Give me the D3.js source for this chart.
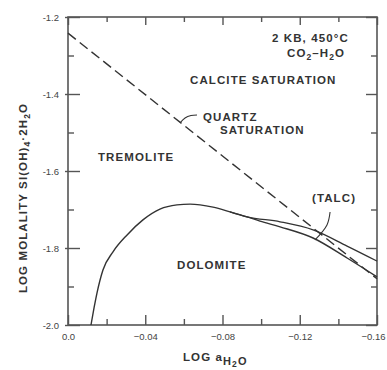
<!DOCTYPE html>
<html>
<head>
<meta charset="utf-8">
<script src="https://cdn.jsdelivr.net/npm/d3@7"></script>
<style>
  html, body { margin: 0; padding: 0; background: #fff; }
  svg { display: block; font-family: "Liberation Sans", Arial, sans-serif; }
</style>
</head>
<body>
<svg id="chart" width="387" height="370"></svg>
<script>
// ---- data ----
const xDomain = [0, -0.16];
const yDomain = [-2.0, -1.2];
const xMajorTicks = [0, -0.04, -0.08, -0.12, -0.16];
const xMajorLabels = ["0.0", "\u22120.04", "\u22120.08", "\u22120.12", "\u22120.16"];
const xMinorTicks = [-0.02, -0.06, -0.10, -0.14];
const yMajorTicks = [-1.2, -1.4, -1.6, -1.8, -2.0];
const yMajorLabels = ["-1.2", "-1.4", "-1.6", "-1.8", "-2.0"];
const yMinorTicks = [-1.3, -1.5, -1.7, -1.9];

// quartz saturation (dashed)
const quartzX = [0, -0.16];
const quartzY = [-1.242, -1.880];

// dolomite boundary (lower branch)
const dolomiteX = [-0.0119, -0.0135, -0.0150, -0.0181, -0.0233, -0.0306, -0.0388, -0.0476, -0.0564, -0.0632, -0.0751, -0.0839, -0.0927, -0.0994, -0.1098, -0.1269, -0.1445, -0.1600];
const dolomiteY = [-2.000, -1.955, -1.917, -1.857, -1.810, -1.766, -1.727, -1.699, -1.688, -1.686, -1.694, -1.706, -1.719, -1.730, -1.745, -1.774, -1.826, -1.875];

// talc boundary (upper branch)
const talcX = [-0.0839, -0.0927, -0.1098, -0.1269, -0.1445, -0.1600];
const talcY = [-1.706, -1.719, -1.732, -1.753, -1.795, -1.834];

// label leaders
const talcLeaderX = [-0.1357, -0.1341, -0.1279];
const talcLeaderY = [-1.7065, -1.740, -1.779];
const quartzLeaderX = [-0.0668, -0.0637, -0.0606, -0.0580];
const quartzLeaderY = [-1.4545, -1.456, -1.4623, -1.475];

// ---- layout ----
const svg = d3.select("#chart");
const L = 68, R = 377, T = 17, B = 325;
const x = d3.scaleLinear().domain(xDomain).range([L, R]);
const y = d3.scaleLinear().domain(yDomain).range([B, T]);
const axisColor = "#555";
const lineColor = "#333";
const textColor = "#333";

// frame
svg.append("rect").attr("x", L).attr("y", T).attr("width", R - L).attr("height", B - T)
  .attr("fill", "none").attr("stroke", axisColor).attr("stroke-width", 1.6);

// axes with inward ticks
const fmt = (arr, labels) => (d => labels[arr.indexOf(d)]);
const bottomAxis = d3.axisBottom(x).tickValues(xMajorTicks).tickSizeInner(-10).tickSizeOuter(0)
  .tickPadding(8).tickFormat(fmt(xMajorTicks, xMajorLabels));
const gB = svg.append("g").attr("transform", `translate(0,${B})`).call(bottomAxis);
const gBm = svg.append("g").attr("transform", `translate(0,${B})`)
  .call(d3.axisBottom(x).tickValues(xMinorTicks).tickSizeInner(-6).tickSizeOuter(0).tickFormat(""));
const gT = svg.append("g").attr("transform", `translate(0,${T})`)
  .call(d3.axisTop(x).tickValues(xMajorTicks).tickSizeInner(-8).tickSizeOuter(0).tickFormat(""));
const gTm = svg.append("g").attr("transform", `translate(0,${T})`)
  .call(d3.axisTop(x).tickValues(xMinorTicks).tickSizeInner(-5).tickSizeOuter(0).tickFormat(""));
const gL = svg.append("g").attr("transform", `translate(${L},0)`)
  .call(d3.axisLeft(y).tickValues(yMajorTicks).tickSizeInner(-12).tickSizeOuter(0)
    .tickPadding(20).tickFormat(fmt(yMajorTicks, yMajorLabels)));
const gLm = svg.append("g").attr("transform", `translate(${L},0)`)
  .call(d3.axisLeft(y).tickValues(yMinorTicks).tickSizeInner(-6).tickSizeOuter(0).tickFormat(""));
const gR = svg.append("g").attr("transform", `translate(${R},0)`)
  .call(d3.axisRight(y).tickValues(yMajorTicks).tickSizeInner(-11).tickSizeOuter(0).tickFormat(""));
const gRm = svg.append("g").attr("transform", `translate(${R},0)`)
  .call(d3.axisRight(y).tickValues(yMinorTicks).tickSizeInner(-6).tickSizeOuter(0).tickFormat(""));

[gB, gBm, gT, gTm, gL, gLm, gR, gRm].forEach(g => {
  g.select(".domain").remove();
  g.selectAll(".tick line").attr("stroke", axisColor).attr("stroke-width", 1.4);
  g.selectAll(".tick text").attr("fill", "#444").attr("font-size", 9.5)
    .attr("font-family", "Liberation Sans, Arial, sans-serif");
});
// left-axis major ticks poke slightly outside
gL.selectAll(".tick line").attr("x1", -3);
gL.selectAll(".tick text").attr("text-anchor", "end").attr("x", -9);
// keep the last x label inside the window
gB.selectAll(".tick text").filter(d => d === -0.16).attr("dx", -4);

// ---- curves ----
const line = d3.line().x(d => x(d[0])).y(d => y(d[1]));
const zip = (a, b) => a.map((v, i) => [v, b[i]]);

svg.append("path").datum(zip(quartzX, quartzY))
  .attr("d", line).attr("fill", "none").attr("stroke", lineColor)
  .attr("stroke-width", 1.4).attr("stroke-dasharray", "10,5");

const smooth = d3.line().x(d => x(d[0])).y(d => y(d[1])).curve(d3.curveMonotoneX);
const smoothLeader = d3.line().x(d => x(d[0])).y(d => y(d[1])).curve(d3.curveCatmullRom.alpha(0.5));
svg.append("path").datum(zip(dolomiteX, dolomiteY))
  .attr("d", smooth).attr("fill", "none").attr("stroke", lineColor).attr("stroke-width", 1.4);
svg.append("path").datum(zip(talcX, talcY))
  .attr("d", smooth).attr("fill", "none").attr("stroke", lineColor).attr("stroke-width", 1.3);
svg.append("path").datum(zip(talcLeaderX, talcLeaderY))
  .attr("d", smoothLeader).attr("fill", "none").attr("stroke", lineColor).attr("stroke-width", 1.1);
svg.append("path").datum(zip(quartzLeaderX, quartzLeaderY))
  .attr("d", smoothLeader).attr("fill", "none").attr("stroke", lineColor).attr("stroke-width", 1.1);

// ---- labels ----
const LS = 1.1;
function label(txt, px, py, anchor) {
  return svg.append("text").attr("x", px).attr("y", py).attr("font-size", 11.5)
    .attr("font-weight", "bold").attr("fill", textColor).attr("letter-spacing", LS)
    .attr("text-anchor", anchor || "start")
    .attr("dominant-baseline", "central").text(txt);
}
label("CALCITE SATURATION", 190, 80);
label("QUARTZ", 203, 117);
label("SATURATION", 220, 130);
label("TREMOLITE", 98, 157);
label("DOLOMITE", 177, 265);
label("(TALC)", 312, 198);
label("2 KB, 450\u00B0C", 272, 38);

const co2 = svg.append("text").attr("x", 287).attr("y", 57).attr("font-size", 11.5)
  .attr("font-weight", "bold").attr("fill", textColor).attr("letter-spacing", LS);
co2.append("tspan").text("CO");
co2.append("tspan").attr("font-size", 8.5).attr("dy", 3).text("2");
co2.append("tspan").attr("dy", -3).text("\u2013H");
co2.append("tspan").attr("font-size", 8.5).attr("dy", 3).text("2");
co2.append("tspan").attr("dy", -3).text("O");

// x axis title
const xt = svg.append("text").attr("x", 183).attr("y", 361).attr("font-size", 11.5)
  .attr("font-weight", "bold").attr("fill", textColor).attr("letter-spacing", LS);
xt.append("tspan").text("LOG a");
xt.append("tspan").attr("font-size", 11).attr("dy", 4).text("H");
xt.append("tspan").attr("font-size", 8.5).attr("dy", 2).text("2");
xt.append("tspan").attr("font-size", 11).attr("dy", -2).text("O");

// y axis title
const yt = svg.append("text").attr("transform", "translate(27,198) rotate(-90)")
  .attr("font-size", 11.5).attr("font-weight", "bold").attr("fill", textColor)
  .attr("letter-spacing", LS).attr("text-anchor", "middle");
yt.append("tspan").text("LOG MOLALITY SI(OH)");
yt.append("tspan").attr("font-size", 8.5).attr("dy", 3).text("4");
yt.append("tspan").attr("dy", -3).text("\u00B72H");
yt.append("tspan").attr("font-size", 8.5).attr("dy", 3).text("2");
yt.append("tspan").attr("dy", -3).text("O");
</script>
</body>
</html>
